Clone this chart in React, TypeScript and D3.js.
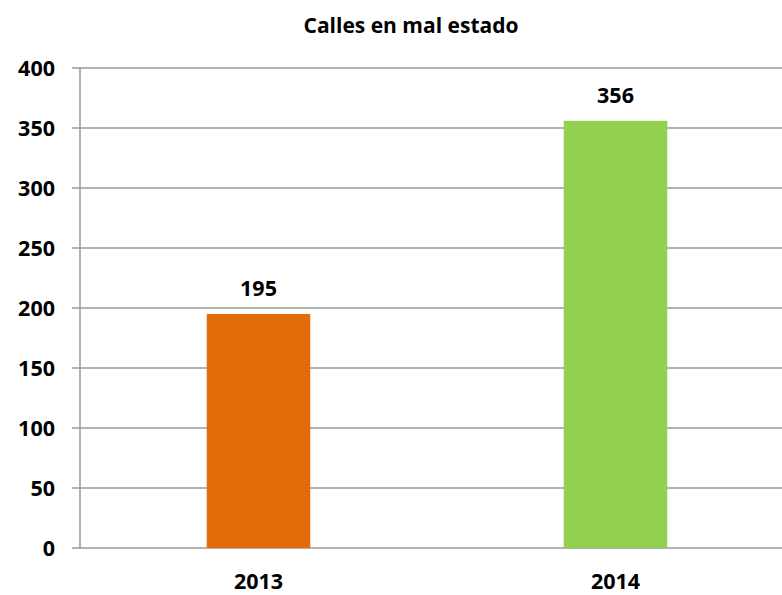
import React from "react";
import * as d3 from "d3";

const categories = ["2013", "2014"];
const values = [195, 356];
const colors = ["#E36C09", "#92D050"];
const yTicks = [0, 50, 100, 150, 200, 250, 300, 350, 400];
const title = "Calles en mal estado";

export default function App() {
  const W = 782, H = 595;
  const left = 80, right = 794, top = 68, bottom = 548;
  const x = d3.scaleBand().domain(categories).range([left, right]).paddingInner(0.71).paddingOuter(0.355);
  const y = d3.scaleLinear().domain([0, 400]).range([bottom, top]);
  const font = "'Open Sans', sans-serif";
  return (
    <svg width={W} height={H} style={{ position: "absolute", left: 0, top: 0, background: "#fff" }}>
      <text x={411} y={33} textAnchor="middle" fontFamily={font} fontWeight="bold" fontSize={21} fill="#000">{title}</text>
      {yTicks.map((t) => (
        <g key={t}>
          <line x1={72} x2={right} y1={y(t)} y2={y(t)} stroke="#999" strokeWidth={1.5} />
          <text x={55} y={y(t)} dy="0.36em" textAnchor="end" fontFamily={font} fontWeight="bold" fontSize={21.5} fill="#000">{t}</text>
        </g>
      ))}
      <line x1={left} x2={left} y1={top} y2={bottom} stroke="#999" strokeWidth={1.5} />
      {categories.map((c, i) => (
        <g key={c}>
          <rect x={x(c)} y={y(values[i])} width={x.bandwidth()} height={bottom - y(values[i])} fill={colors[i]} />
          <text x={x(c)! + x.bandwidth() / 2} y={y(values[i]) - 18} textAnchor="middle" fontFamily={font} fontWeight="bold" fontSize={21.5} fill="#000">{values[i]}</text>
          <text x={x(c)! + x.bandwidth() / 2} y={589} textAnchor="middle" fontFamily={font} fontWeight="bold" fontSize={21.5} fill="#000">{c}</text>
        </g>
      ))}
    </svg>
  );
}
